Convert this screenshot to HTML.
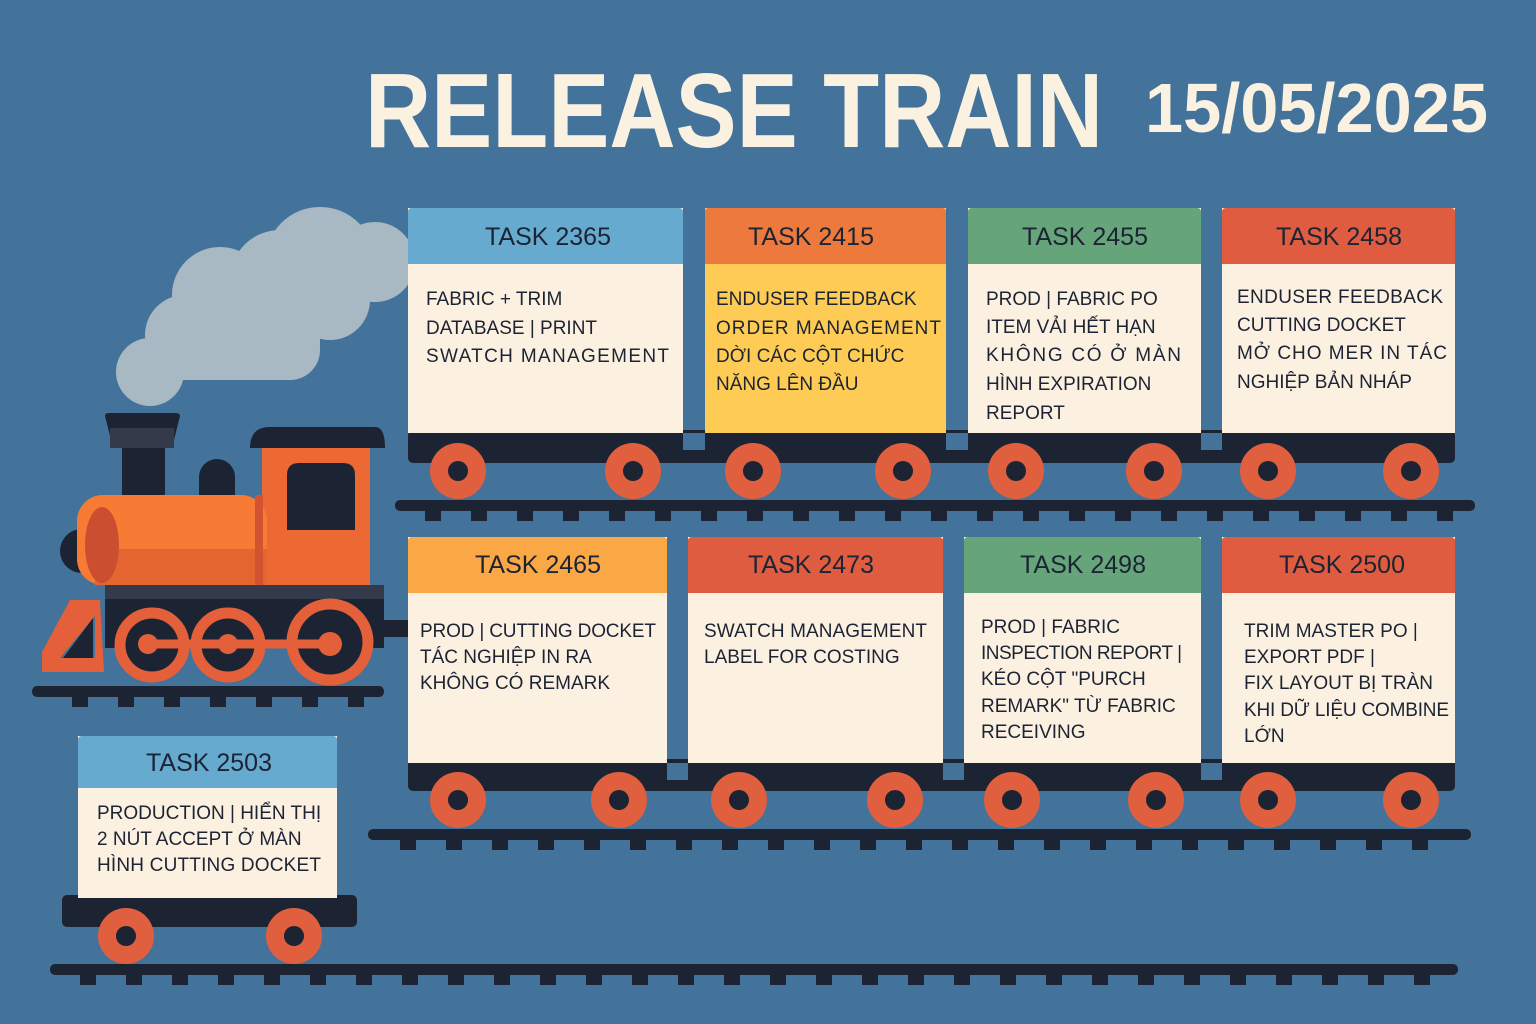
<!DOCTYPE html>
<html><head><meta charset="utf-8"><style>
html,body{margin:0;padding:0;background:#43739a;}
svg{display:block}
text{font-family:"Liberation Sans","DejaVu Sans",sans-serif;fill:#1c2433}
.h{font-size:25px;text-anchor:middle}
.b{font-size:19px}
.t{fill:#fbf1e0;font-weight:bold}
</style></head><body>
<svg width="1536" height="1024" viewBox="0 0 1536 1024" xmlns="http://www.w3.org/2000/svg">
<rect width="1536" height="1024" fill="#43739a"/>
<text x="365" y="147" class="t" font-size="106" textLength="738" lengthAdjust="spacingAndGlyphs">RELEASE TRAIN</text>
<text x="1145" y="132" class="t" font-size="70" textLength="343" lengthAdjust="spacingAndGlyphs">15/05/2025</text>

<!-- smoke -->
<g fill="#a9b9c4">
<circle cx="150" cy="372" r="34"/><circle cx="185" cy="335" r="40"/><circle cx="220" cy="295" r="48"/>
<circle cx="280" cy="280" r="50"/><circle cx="320" cy="262" r="55"/><circle cx="375" cy="262" r="40"/>
<circle cx="250" cy="330" r="45"/><circle cx="330" cy="300" r="40"/><rect x="150" y="300" width="170" height="80" rx="30"/>
</g>

<!-- rails -->
<g fill="#1c2433">
<rect x="395" y="500" width="1080" height="11" rx="5"/>
<rect x="368" y="829" width="1103" height="11" rx="5"/>
<rect x="32" y="686" width="352" height="11" rx="5"/>
<rect x="50" y="964" width="1408" height="11" rx="5"/>
</g>
<g fill="#1c2433" id="ties">
<!-- generated ties -->
<path d="M425 510h16v11h-16zM471 510h16v11h-16zM517 510h16v11h-16zM563 510h16v11h-16zM609 510h16v11h-16zM655 510h16v11h-16zM701 510h16v11h-16zM747 510h16v11h-16zM793 510h16v11h-16zM839 510h16v11h-16zM885 510h16v11h-16zM931 510h16v11h-16zM977 510h16v11h-16zM1023 510h16v11h-16zM1069 510h16v11h-16zM1115 510h16v11h-16zM1161 510h16v11h-16zM1207 510h16v11h-16zM1253 510h16v11h-16zM1299 510h16v11h-16zM1345 510h16v11h-16zM1391 510h16v11h-16zM1437 510h16v11h-16z"/>
<path d="M400 839h16v11h-16zM446 839h16v11h-16zM492 839h16v11h-16zM538 839h16v11h-16zM584 839h16v11h-16zM630 839h16v11h-16zM676 839h16v11h-16zM722 839h16v11h-16zM768 839h16v11h-16zM814 839h16v11h-16zM860 839h16v11h-16zM906 839h16v11h-16zM952 839h16v11h-16zM998 839h16v11h-16zM1044 839h16v11h-16zM1090 839h16v11h-16zM1136 839h16v11h-16zM1182 839h16v11h-16zM1228 839h16v11h-16zM1274 839h16v11h-16zM1320 839h16v11h-16zM1366 839h16v11h-16zM1412 839h16v11h-16z"/>
<path d="M72 696h16v11h-16zM118 696h16v11h-16zM164 696h16v11h-16zM210 696h16v11h-16zM256 696h16v11h-16zM302 696h16v11h-16zM348 696h16v11h-16z"/>
<path d="M80 974h16v11h-16zM126 974h16v11h-16zM172 974h16v11h-16zM218 974h16v11h-16zM264 974h16v11h-16zM310 974h16v11h-16zM356 974h16v11h-16zM402 974h16v11h-16zM448 974h16v11h-16zM494 974h16v11h-16zM540 974h16v11h-16zM586 974h16v11h-16zM632 974h16v11h-16zM678 974h16v11h-16zM724 974h16v11h-16zM770 974h16v11h-16zM816 974h16v11h-16zM862 974h16v11h-16zM908 974h16v11h-16zM954 974h16v11h-16zM1000 974h16v11h-16zM1046 974h16v11h-16zM1092 974h16v11h-16zM1138 974h16v11h-16zM1184 974h16v11h-16zM1230 974h16v11h-16zM1276 974h16v11h-16zM1322 974h16v11h-16zM1368 974h16v11h-16zM1414 974h16v11h-16z"/>
</g>

<!-- engine -->
<rect x="384" y="620" width="26" height="17" fill="#1c2433"/>
<path d="M105 416q0-3 4-3h67q4 0 4 3l-8 32h-59z" fill="#1c2433"/>
<rect x="110" y="428" width="64" height="20" fill="#333a4a"/>
<rect x="122" y="448" width="43" height="50" fill="#1c2433"/>
<path d="M199 495v-18a18 18 0 0 1 36 0v18z" fill="#1c2433"/>
<path d="M250 448q0-21 20-21h105q10 0 10 21z" fill="#1c2433"/>
<rect x="262" y="448" width="108" height="140" fill="#ec6934"/>
<path d="M287 530v-55q0-12 12-12h44q12 0 12 12v55z" fill="#1c2433"/>
<circle cx="82" cy="551" r="22" fill="#1c2433"/>
<rect x="77" y="495" width="190" height="90" rx="26" fill="#f77a35"/>
<rect x="95" y="549" width="172" height="36" fill="#e4652f"/>
<rect x="255" y="495" width="8" height="90" fill="#d35330"/>
<ellipse cx="102" cy="545" rx="17" ry="38" fill="#cc4e30"/>
<rect x="105" y="585" width="279" height="63" fill="#1c2433"/>
<rect x="105" y="585" width="279" height="14" fill="#333a4a"/>
<path d="M100 600h-30l-28 52v20h62z M95 616v42h-35z" fill="#e3603a" fill-rule="evenodd"/>
<path d="M93 618v40h-30z" fill="#1c2433"/>
<g fill="#1c2433" stroke="#e3603a" stroke-width="11">
<circle cx="152" cy="645" r="32"/><circle cx="228" cy="645" r="32"/><circle cx="330" cy="642" r="38"/>
</g>
<line x1="148" y1="644" x2="330" y2="644" stroke="#e3603a" stroke-width="9"/>
<g fill="#e3603a"><circle cx="148" cy="644" r="10"/><circle cx="228" cy="644" r="10"/><circle cx="330" cy="644" r="12"/></g>

<!-- chassis -->
<g fill="#1c2433">
<rect x="408" y="430" width="1047" height="33" rx="5"/>
<rect x="408" y="759" width="1047" height="32" rx="5"/>
<rect x="62" y="895" width="295" height="32" rx="5"/>
</g>
<!-- gaps between cars -->
<g fill="#43739a">
<rect x="683" y="433" width="22" height="17"/><rect x="946" y="433" width="22" height="17"/><rect x="1201" y="433" width="21" height="17"/>
<rect x="667" y="763" width="21" height="17"/><rect x="943" y="763" width="21" height="17"/><rect x="1201" y="763" width="21" height="17"/>
</g>

<!-- wheels -->
<g fill="#df5f3e">
<circle cx="458" cy="471" r="28"/><circle cx="633" cy="471" r="28"/><circle cx="753" cy="471" r="28"/><circle cx="903" cy="471" r="28"/><circle cx="1016" cy="471" r="28"/><circle cx="1154" cy="471" r="28"/><circle cx="1268" cy="471" r="28"/><circle cx="1411" cy="471" r="28"/>
<circle cx="458" cy="800" r="28"/><circle cx="619" cy="800" r="28"/><circle cx="739" cy="800" r="28"/><circle cx="895" cy="800" r="28"/><circle cx="1012" cy="800" r="28"/><circle cx="1156" cy="800" r="28"/><circle cx="1268" cy="800" r="28"/><circle cx="1411" cy="800" r="28"/>
<circle cx="126" cy="936" r="28"/><circle cx="294" cy="936" r="28"/>
</g>
<g fill="#1c2433">
<circle cx="458" cy="471" r="10"/><circle cx="633" cy="471" r="10"/><circle cx="753" cy="471" r="10"/><circle cx="903" cy="471" r="10"/><circle cx="1016" cy="471" r="10"/><circle cx="1154" cy="471" r="10"/><circle cx="1268" cy="471" r="10"/><circle cx="1411" cy="471" r="10"/>
<circle cx="458" cy="800" r="10"/><circle cx="619" cy="800" r="10"/><circle cx="739" cy="800" r="10"/><circle cx="895" cy="800" r="10"/><circle cx="1012" cy="800" r="10"/><circle cx="1156" cy="800" r="10"/><circle cx="1268" cy="800" r="10"/><circle cx="1411" cy="800" r="10"/>
<circle cx="126" cy="936" r="10"/><circle cx="294" cy="936" r="10"/>
</g>

<!-- cards row 1 -->
<rect x="408" y="208" width="275" height="225" fill="#fcf0e1"/><path d="M408 264v-52q0-4 4-4h267q4 0 4 4v52z" fill="#67aacf"/>
<rect x="705" y="208" width="241" height="225" fill="#fecb55"/><path d="M705 264v-52q0-4 4-4h233q4 0 4 4v52z" fill="#ed7a3c"/>
<rect x="968" y="208" width="233" height="225" fill="#fcf0e1"/><path d="M968 264v-52q0-4 4-4h225q4 0 4 4v52z" fill="#66a57a"/>
<rect x="1222" y="208" width="233" height="225" fill="#fcf0e1"/><path d="M1222 264v-52q0-4 4-4h225q4 0 4 4v52z" fill="#e05c40"/>
<!-- row 2 -->
<rect x="408" y="537" width="259" height="226" fill="#fcf0e1"/><path d="M408 593v-52q0-4 4-4h251q4 0 4 4v52z" fill="#f9a845"/>
<rect x="688" y="537" width="255" height="226" fill="#fcf0e1"/><path d="M688 593v-52q0-4 4-4h247q4 0 4 4v52z" fill="#e05c40"/>
<rect x="964" y="537" width="237" height="226" fill="#fcf0e1"/><path d="M964 593v-52q0-4 4-4h229q4 0 4 4v52z" fill="#66a57a"/>
<rect x="1222" y="537" width="233" height="226" fill="#fcf0e1"/><path d="M1222 593v-52q0-4 4-4h225q4 0 4 4v52z" fill="#e05c40"/>
<!-- 2503 -->
<rect x="78" y="736" width="259" height="162" fill="#fcf0e1"/><path d="M78 788v-48q0-4 4-4h251q4 0 4 4v48z" fill="#67aacf"/>

<!-- headers -->
<text class="h" x="548" y="245">TASK 2365</text>
<text class="h" x="811" y="245">TASK 2415</text>
<text class="h" x="1085" y="245">TASK 2455</text>
<text class="h" x="1339" y="245">TASK 2458</text>
<text class="h" x="538" y="573">TASK 2465</text>
<text class="h" x="811" y="573">TASK 2473</text>
<text class="h" x="1083" y="573">TASK 2498</text>
<text class="h" x="1342" y="573">TASK 2500</text>
<text class="h" x="209" y="771">TASK 2503</text>

<!-- bodies -->
<g class="b">
<text class="b" x="426" y="305">FABRIC + TRIM</text>
<text class="b" x="426" y="334">DATABASE | PRINT</text>
<text class="b" x="426" y="362" textLength="243">SWATCH MANAGEMENT</text>

<text class="b" x="716" y="305">ENDUSER FEEDBACK</text>
<text class="b" x="716" y="334" textLength="225">ORDER MANAGEMENT</text>
<text class="b" x="716" y="362">DỜI CÁC CỘT CHỨC</text>
<text class="b" x="716" y="390">NĂNG LÊN ĐẦU</text>

<text class="b" x="986" y="305">PROD | FABRIC PO</text>
<text class="b" x="986" y="333">ITEM VẢI HẾT HẠN</text>
<text class="b" x="986" y="361" textLength="195">KHÔNG CÓ Ở MÀN</text>
<text class="b" x="986" y="390">HÌNH EXPIRATION</text>
<text class="b" x="986" y="419">REPORT</text>

<text class="b" x="1237" y="303" textLength="206">ENDUSER FEEDBACK</text>
<text class="b" x="1237" y="331">CUTTING DOCKET</text>
<text class="b" x="1237" y="359" textLength="210">MỞ CHO MER IN TÁC</text>
<text class="b" x="1237" y="388">NGHIỆP BẢN NHÁP</text>

<text class="b" x="420" y="637" textLength="236">PROD | CUTTING DOCKET</text>
<text class="b" x="420" y="663">TÁC NGHIỆP IN RA</text>
<text class="b" x="420" y="689">KHÔNG CÓ REMARK</text>

<text class="b" x="704" y="637" textLength="223">SWATCH MANAGEMENT</text>
<text class="b" x="704" y="663">LABEL FOR COSTING</text>

<text class="b" x="981" y="633">PROD | FABRIC</text>
<text class="b" x="981" y="659" textLength="201">INSPECTION REPORT |</text>
<text class="b" x="981" y="685">KÉO CỘT "PURCH</text>
<text class="b" x="981" y="712">REMARK" TỪ FABRIC</text>
<text class="b" x="981" y="738">RECEIVING</text>

<text class="b" x="1244" y="637">TRIM MASTER PO |</text>
<text class="b" x="1244" y="663">EXPORT PDF |</text>
<text class="b" x="1244" y="689">FIX LAYOUT BỊ TRÀN</text>
<text class="b" x="1244" y="716" textLength="205">KHI DỮ LIỆU COMBINE</text>
<text class="b" x="1244" y="742">LỚN</text>

<text class="b" x="97" y="819">PRODUCTION | HIỂN THỊ</text>
<text class="b" x="97" y="845">2 NÚT ACCEPT Ở MÀN</text>
<text class="b" x="97" y="871" textLength="224">HÌNH CUTTING DOCKET</text>
</g>
</svg>
</body></html>
